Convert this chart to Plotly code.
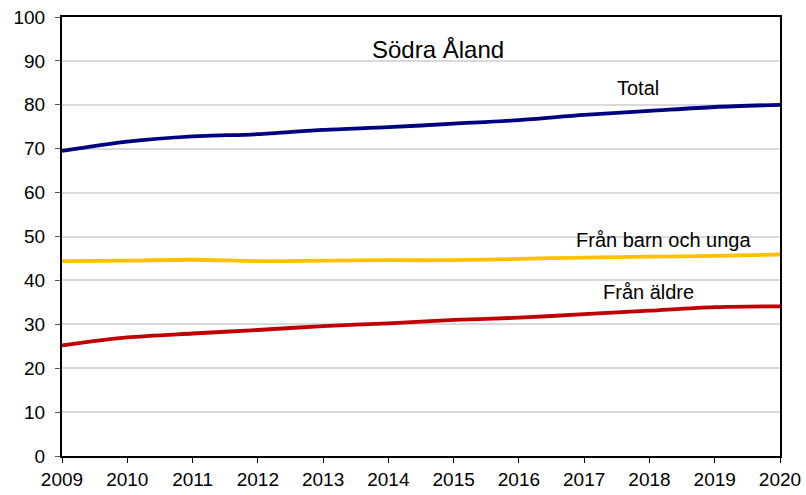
import plotly.graph_objects as go

years = list(range(2009, 2021))
total = [69.5, 71.6, 72.8, 73.3, 74.3, 74.9, 75.7, 76.5, 77.7, 78.6, 79.5, 80.0]
barn_unga = [44.4, 44.5, 44.7, 44.4, 44.5, 44.6, 44.6, 44.9, 45.2, 45.4, 45.6, 45.9]
aldre = [25.2, 27.0, 27.9, 28.7, 29.6, 30.2, 31.0, 31.5, 32.3, 33.1, 33.9, 34.1]

FONT = "Liberation Sans, Arial, sans-serif"

fig = go.Figure()
for y, c in [(barn_unga, "#FFC000"), (aldre, "#C00000"), (total, "#000080")]:
    fig.add_trace(go.Scatter(x=years, y=y, mode="lines", line=dict(color=c, width=3.8, shape="spline", smoothing=0.8),
                             showlegend=False, hoverinfo="x+y"))

ann = [
    dict(x=2014.76, y=92.6, text="Södra Åland", size=24),
    dict(x=2017.83, y=83.8, text="Total", size=20),
    dict(x=2018.21, y=49.2, text="Från barn och unga", size=20),
    dict(x=2017.98, y=37.4, text="Från äldre", size=20),
]
for a in ann:
    fig.add_annotation(x=a["x"], y=a["y"], text=a["text"], showarrow=False,
                       font=dict(family=FONT, size=a["size"], color="black"))

fig.update_layout(
    width=806, height=495,
    margin=dict(l=62, r=26, t=17, b=39),
    paper_bgcolor="white", plot_bgcolor="white",
    font=dict(family=FONT, size=19, color="black"),
    xaxis=dict(range=[2009, 2020], tickmode="array", tickvals=years, ticks="outside", ticklen=5,
               tickcolor="black", showgrid=False, showline=True, linecolor="black", linewidth=2,
               mirror=True, zeroline=False, tickfont=dict(size=19), automargin=False),
    yaxis=dict(range=[0, 100], dtick=10, ticks="outside", ticklen=5, tickcolor="#555",
               showgrid=True, gridcolor="#D9D9D9", gridwidth=1.5, showline=True, linecolor="black",
               linewidth=2, mirror=True, zeroline=False, tickfont=dict(size=19), automargin=False,
               ticklabelstandoff=6),
)

fig.write_html("out.html", config={"displayModeBar": False},
               post_script="document.body.style.margin='0';document.body.style.overflow='hidden';")
